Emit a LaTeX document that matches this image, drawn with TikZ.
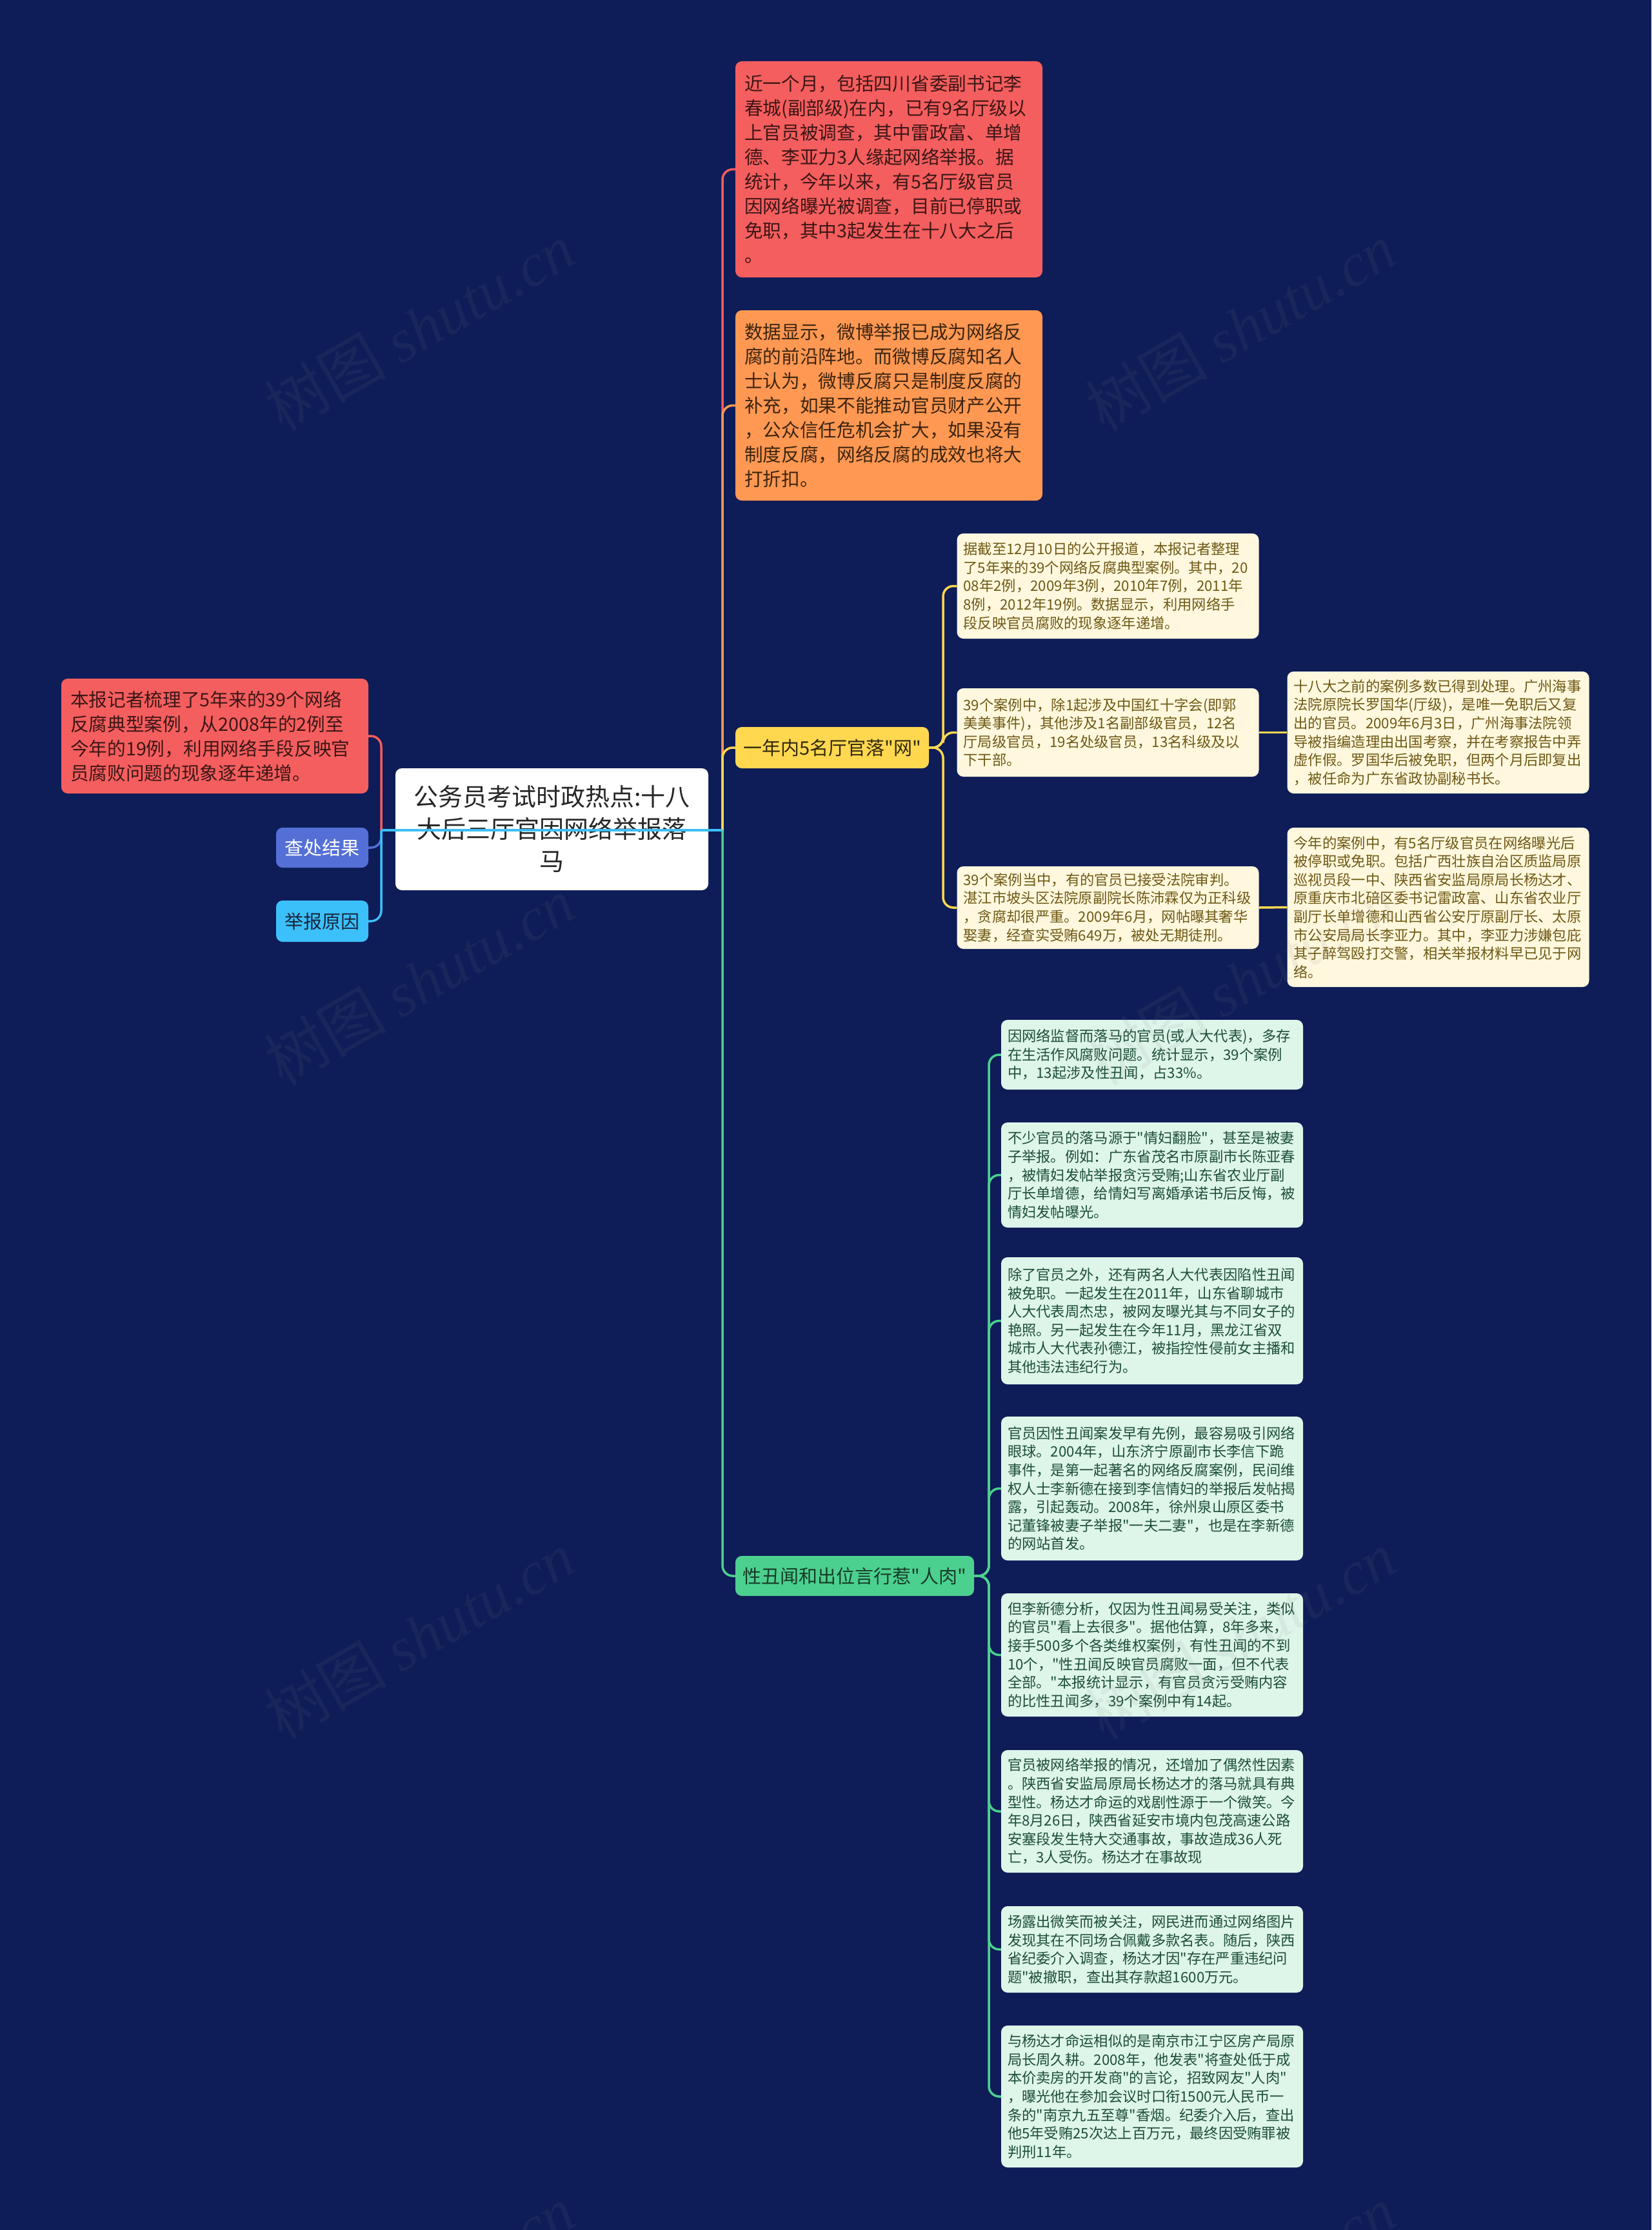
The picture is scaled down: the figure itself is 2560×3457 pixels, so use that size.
\documentclass[tikz,border=0pt]{standalone}
\usepackage{fontspec}
\newfontfamily\cjk{Noto Sans CJK SC}
\setmainfont{Noto Sans CJK SC}[Ligatures=ResetAll]
\newfontfamily\wmlatin{Liberation Serif}
\definecolor{bg}{RGB}{14,28,87}
\definecolor{cred}{RGB}{245,94,94}
\definecolor{corange}{RGB}{255,152,82}
\definecolor{cyel}{RGB}{255,216,80}
\definecolor{ccream}{RGB}{255,248,222}
\definecolor{ctxtyel}{RGB}{110,88,20}
\definecolor{cgreen}{RGB}{76,208,143}
\definecolor{cmint}{RGB}{222,245,234}
\definecolor{ctxtgrn}{RGB}{28,78,56}
\definecolor{cpurple}{RGB}{84,112,214}
\definecolor{ccyan}{RGB}{60,192,250}
\definecolor{ctxtred}{RGB}{60,22,22}
\definecolor{ctxtorg}{RGB}{60,36,16}
\definecolor{ctxtdark}{RGB}{50,40,12}
\definecolor{ctxtgdark}{RGB}{22,60,40}
\definecolor{ctxtblue}{RGB}{25,38,60}
\pgfdeclarelayer{backdrop}
\pgfdeclarelayer{links}
\pgfsetlayers{backdrop,links,main}
\begin{document}
\begin{tikzpicture}[x=1pt,y=-1pt,
  conn/.style={line width=3.5pt, rounded corners=16pt},
  boxbase/.style={rounded corners=10pt, inner ysep=0pt, anchor=center},
  bigbox/.style={boxbase, inner xsep=14pt, text width=448pt, minimum width=476pt, align=left, font=\cjk\fontsize{28.7}{38}\selectfont},
  smallbox/.style={boxbase, inner xsep=10pt, text width=448pt, minimum width=468pt, align=left, font=\cjk\fontsize{22.3}{28.6}\selectfont},
  yelbox/.style={smallbox, fill=ccream, text=ctxtyel},
  grnbox/.style={smallbox, fill=cmint, text=ctxtgrn},
  tagbox/.style={boxbase, align=center, font=\cjk\fontsize{29}{36}\selectfont},
  wmark/.style={rotate=30, text=gray, opacity=0.1, font=\cjk\fontsize{95}{95}\selectfont}
]
\begin{pgfonlayer}{backdrop}
\fill[bg] (0,0) rectangle (2560,3457);
\end{pgfonlayer}
\useasboundingbox (0,0) rectangle (2560,3457);

% root
\node[boxbase, fill=white, text=black!85, align=center, text width=445pt, inner xsep=20pt, minimum width=485pt, minimum height=189pt, font=\cjk\fontsize{38}{50}\selectfont] (root) at (855.5,1285.5) {公务员考试时政热点:十八\\大后三厅官因网络举报落\\马};

% left side
\node[bigbox, fill=cred, text=ctxtred, minimum height=178pt] (lr) at (333,1141) {本报记者梳理了5年来的39个网络\\反腐典型案例，从2008年的2例至\\今年的19例，利用网络手段反映官\\员腐败问题的现象逐年递增。};
\node[tagbox, fill=cpurple, text=white, minimum width=143pt, minimum height=62pt] (cc) at (499.5,1314) {查处结果};
\node[tagbox, fill=ccyan, text=ctxtblue, minimum width=143pt, minimum height=64pt] (jb) at (499.5,1428) {举报原因};

% right top
\node[bigbox, fill=cred, text=ctxtred, minimum height=335pt] (tr) at (1378,262.5) {近一个月，包括四川省委副书记李\\春城(副部级)在内，已有9名厅级以\\上官员被调查，其中雷政富、单增\\德、李亚力3人缘起网络举报。据\\统计，今年以来，有5名厅级官员\\因网络曝光被调查，目前已停职或\\免职，其中3起发生在十八大之后\\。};
\node[bigbox, fill=corange, text=ctxtorg, minimum height=295pt] (orb) at (1378,628.5) {数据显示，微博举报已成为网络反\\腐的前沿阵地。而微博反腐知名人\\士认为，微博反腐只是制度反腐的\\补充，如果不能推动官员财产公开\\，公众信任危机会扩大，如果没有\\制度反腐，网络反腐的成效也将大\\打折扣。};

% yellow branch
\node[tagbox, fill=cyel, text=ctxtdark, minimum width=300pt, minimum height=64pt] (yn) at (1290,1159) {一年内5名厅官落"网"};
\node[yelbox, minimum height=163pt] (y1) at (1717.5,908.5) {据截至12月10日的公开报道，本报记者整理\\了5年来的39个网络反腐典型案例。其中，20\\08年2例，2009年3例，2010年7例，2011年\\8例，2012年19例。数据显示，利用网络手\\段反映官员腐败的现象逐年递增。};
\node[yelbox, minimum height=137pt] (y2) at (1717.5,1135.5) {39个案例中，除1起涉及中国红十字会(即郭\\美美事件)，其他涉及1名副部级官员，12名\\厅局级官员，19名处级官员，13名科级及以\\下干部。};
\node[yelbox, minimum height=189pt] (y2c) at (2229.5,1135.5) {十八大之前的案例多数已得到处理。广州海事\\法院原院长罗国华(厅级)，是唯一免职后又复\\出的官员。2009年6月3日，广州海事法院领\\导被指编造理由出国考察，并在考察报告中弄\\虚作假。罗国华后被免职，但两个月后即复出\\，被任命为广东省政协副秘书长。};
\node[yelbox, minimum height=128pt] (y3) at (1717.5,1407) {39个案例当中，有的官员已接受法院审判。\\湛江市坡头区法院原副院长陈沛霖仅为正科级\\，贪腐却很严重。2009年6月，网帖曝其奢华\\娶妻，经查实受贿649万，被处无期徒刑。};
\node[yelbox, minimum height=247pt] (y3c) at (2229.5,1406.5) {今年的案例中，有5名厅级官员在网络曝光后\\被停职或免职。包括广西壮族自治区质监局原\\巡视员段一中、陕西省安监局原局长杨达才、\\原重庆市北碚区委书记雷政富、山东省农业厅\\副厅长单增德和山西省公安厅原副厅长、太原\\市公安局局长李亚力。其中，李亚力涉嫌包庇\\其子醉驾殴打交警，相关举报材料早已见于网\\络。};

% green branch
\node[tagbox, fill=cgreen, text=ctxtgdark, minimum width=370pt, minimum height=62pt] (gn) at (1325,2443) {性丑闻和出位言行惹"人肉"};
\node[grnbox, minimum height=108pt] (g1) at (1786,1635) {因网络监督而落马的官员(或人大代表)，多存\\在生活作风腐败问题。统计显示，39个案例\\中，13起涉及性丑闻，占33\%。};
\node[grnbox, minimum height=163pt] (g2) at (1786,1821.5) {不少官员的落马源于"情妇翻脸"，甚至是被妻\\子举报。例如：广东省茂名市原副市长陈亚春\\，被情妇发帖举报贪污受贿;山东省农业厅副\\厅长单增德，给情妇写离婚承诺书后反悔，被\\情妇发帖曝光。};
\node[grnbox, minimum height=197pt] (g3) at (1786,2047.5) {除了官员之外，还有两名人大代表因陷性丑闻\\被免职。一起发生在2011年，山东省聊城市\\人大代表周杰忠，被网友曝光其与不同女子的\\艳照。另一起发生在今年11月，黑龙江省双\\城市人大代表孙德江，被指控性侵前女主播和\\其他违法违纪行为。};
\node[grnbox, minimum height=223pt] (g4) at (1786,2307.5) {官员因性丑闻案发早有先例，最容易吸引网络\\眼球。2004年，山东济宁原副市长李信下跪\\事件，是第一起著名的网络反腐案例，民间维\\权人士李新德在接到李信情妇的举报后发帖揭\\露，引起轰动。2008年，徐州泉山原区委书\\记董锋被妻子举报"一夫二妻"，也是在李新德\\的网站首发。};
\node[grnbox, minimum height=191pt] (g5) at (1786,2565.5) {但李新德分析，仅因为性丑闻易受关注，类似\\的官员"看上去很多"。据他估算，8年多来，\\接手500多个各类维权案例，有性丑闻的不到\\10个，"性丑闻反映官员腐败一面，但不代表\\全部。"本报统计显示，有官员贪污受贿内容\\的比性丑闻多，39个案例中有14起。};
\node[grnbox, minimum height=190pt] (g6) at (1786,2808) {官员被网络举报的情况，还增加了偶然性因素\\。陕西省安监局原局长杨达才的落马就具有典\\型性。杨达才命运的戏剧性源于一个微笑。今\\年8月26日，陕西省延安市境内包茂高速公路\\安塞段发生特大交通事故，事故造成36人死\\亡，3人受伤。杨达才在事故现};
\node[grnbox, minimum height=134pt] (g7) at (1786,3022) {场露出微笑而被关注，网民进而通过网络图片\\发现其在不同场合佩戴多款名表。随后，陕西\\省纪委介入调查，杨达才因"存在严重违纪问\\题"被撤职，查出其存款超1600万元。};
\node[grnbox, minimum height=220pt] (g8) at (1786,3250) {与杨达才命运相似的是南京市江宁区房产局原\\局长周久耕。2008年，他发表"将查处低于成\\本价卖房的开发商"的言论，招致网友"人肉"\\，曝光他在参加会议时口衔1500元人民币一\\条的"南京九五至尊"香烟。纪委介入后，查出\\他5年受贿25次达上百万元，最终因受贿罪被\\判刑11年。};

% junctions
\coordinate (RT) at (1120,1287);
\coordinate (LT) at (591,1287);
\coordinate (YT) at (1462,1159);
\coordinate (GT) at (1533,2443);

\begin{pgfonlayer}{links}
\draw[conn, cred] (RT) |- (tr.west);
\draw[conn, corange] (RT) |- (orb.west);
\draw[conn, cyel] (RT) |- (yn.west);
\draw[conn, cgreen] (RT) |- (gn.west);
\draw[conn, cred] (LT) |- (lr.east);
\draw[conn, cpurple] (LT) |- (cc.east);
\draw[conn, ccyan] (LT) |- (jb.east);
\draw[conn, cyel] (yn.east) -- (YT) |- (y1.west);
\draw[conn, cyel] (yn.east) -- (YT) |- (y2.west);
\draw[conn, cyel] (yn.east) -- (YT) |- (y3.west);
\draw[conn, cyel] (y2.east) -- (y2c.west);
\draw[conn, cyel] (y3.east) -- (y3c.west);
\foreach \g in {g1,g2,g3,g4,g5,g6,g7,g8}
  \draw[conn, cgreen] (gn.east) -- (GT) |- (\g.west);
\end{pgfonlayer}

% line crossing the root
\draw[line width=3.5pt, ccyan] (LT) -- (RT);

% watermarks
\foreach \i/\x/\y in {1/650/507, 2/1923/507, 3/650/1521, 4/1923/1521, 5/650/2535, 6/1923/2535, 7/650/3549, 8/1923/3549}
  \node[wmark] (wm\i) at (\x,\y) {树图 {\wmlatin\itshape shutu.cn}};
\end{tikzpicture}
\end{document}
